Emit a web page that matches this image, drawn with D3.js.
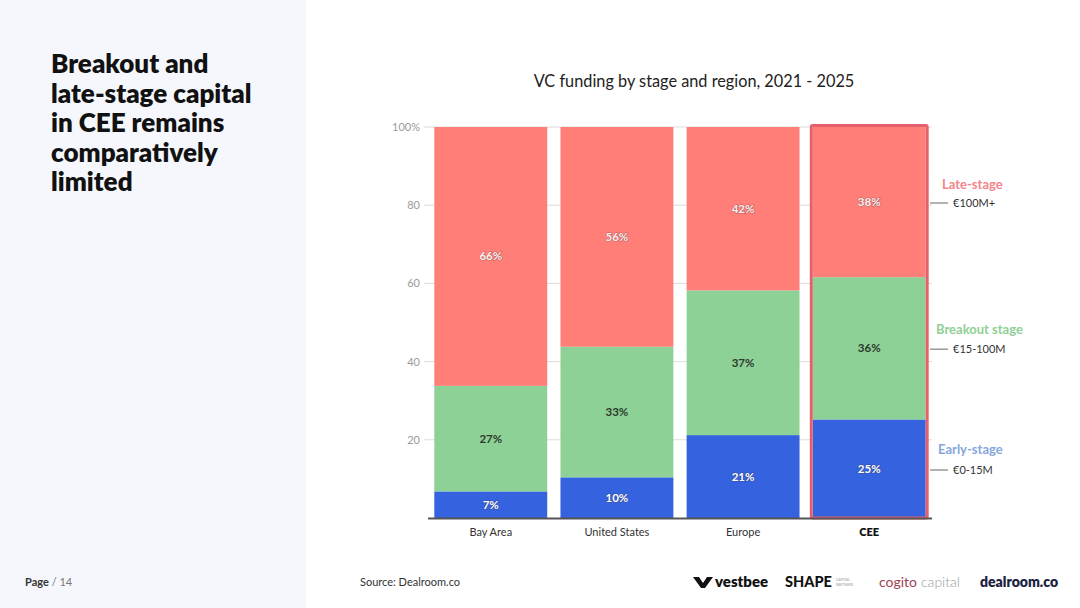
<!DOCTYPE html>
<html><head><meta charset="utf-8">
<script src="https://cdn.jsdelivr.net/npm/d3@7"></script>
<style>
html,body{margin:0;padding:0;background:#fff;}
svg{display:block;font-family:Lato,"Noto Sans",sans-serif;}
</style></head>
<body><svg id="c" width="1080" height="608"></svg>
<script>
const regions = ["Bay Area", "United States", "Europe", "CEE"];
const stages = ["Early-stage", "Breakout stage", "Late-stage"];
const stageRanges = ["€0-15M", "€15-100M", "€100M+"];
const earlyValues = [6.8, 10.4, 21.2, 25.2];
const breakoutValues = [27.0, 33.4, 37.0, 36.4];
const lateValues = [66.2, 56.2, 41.8, 38.4];
const yTicks = [20, 40, 60, 80, 100];
const highlight = "CEE";
const stageColors = ["#3562DE", "#8DD196", "#FF7E78"];
const legendColors = ["#86A6DC", "#8FD095", "#F2858B"];
const labelColors = ["#ffffff", "#2f3a2f", "#fdf1f1"];

const svg = d3.select("#c");
// left panel
svg.append("rect").attr("x",0).attr("y",0).attr("width",306).attr("height",608).attr("fill","#F5F7FC");
const head = ["Breakout and","late-stage capital","in CEE remains","comparatively","limited"];
svg.append("g").selectAll("text").data(head).join("text")
  .attr("x",51).attr("y",(d,i)=>73+i*29.5)
  .attr("font-size",26).attr("font-weight",800).attr("fill","#111").text(d=>d);

svg.append("text").attr("x",25).attr("y",586).attr("font-size",11).attr("fill","#333")
  .call(t=>{t.append("tspan").attr("font-weight",700).text("Page");t.append("tspan").attr("fill","#777").text(" / 14");});
svg.append("text").attr("x",360).attr("y",586).attr("font-size",11).attr("fill","#333").text("Source:  Dealroom.co");

// chart title
svg.append("text").attr("x",694).attr("y",87).attr("text-anchor","middle")
  .attr("font-size",16.3).attr("fill","#222").text("VC funding by stage and region, 2021 - 2025");

const x = d3.scaleBand().domain(regions).range([428,932]).paddingInner(0.105).paddingOuter(0.05);
const y = d3.scaleLinear().domain([0,100]).range([518,127]);

// grid
svg.append("g").selectAll("line").data(yTicks).join("line")
  .attr("x1",424).attr("x2",932).attr("y1",d=>y(d)).attr("y2",d=>y(d))
  .attr("stroke","#dcdcdc").attr("stroke-width",1);
svg.append("g").selectAll("text").data(yTicks).join("text")
  .attr("x",420).attr("y",d=>y(d)+4).attr("text-anchor","end")
  .attr("font-size",11).attr("fill","#9a9a9a").text(d=>d===100?"100%":d);

const rows = regions.map((r,i)=>({region:r, "Early-stage":earlyValues[i], "Breakout stage":breakoutValues[i], "Late-stage":lateValues[i]}));
const series = d3.stack().keys(stages)(rows);

const g = svg.append("g");
series.forEach((s,si)=>{
  g.append("g").selectAll("rect").data(s).join("rect")
    .attr("x",d=>x(d.data.region)).attr("width",x.bandwidth())
    .attr("y",d=>y(d[1])).attr("height",d=>y(d[0])-y(d[1]))
    .attr("fill",stageColors[si]);
  g.append("g").selectAll("text").data(s).join("text")
    .attr("x",d=>x(d.data.region)+x.bandwidth()/2)
    .attr("y",d=>(y(d[0])+y(d[1]))/2+4)
    .attr("text-anchor","middle").attr("font-size",11.5).attr("font-weight",700)
    .attr("fill",labelColors[si])
    .style("paint-order","stroke").attr("stroke",si===1?"none":"rgba(60,40,40,0.35)").attr("stroke-width",1.2)
    .text(d=>Math.round(d[1]-d[0])+"%");
});

// highlight border
svg.append("rect").attr("x",x(highlight)-1.5).attr("y",y(100)-1.5)
  .attr("width",x.bandwidth()+3).attr("height",y(0)-y(100)+1.5)
  .attr("fill","none").attr("stroke","#E4606C").attr("stroke-width",3).attr("rx",1.5);

// baseline
svg.append("line").attr("x1",428).attr("x2",932).attr("y1",518.5).attr("y2",518.5).attr("stroke","#555").attr("stroke-width",2);

// x labels
svg.append("g").selectAll("text").data(regions).join("text")
  .attr("x",d=>x(d)+x.bandwidth()/2).attr("y",536).attr("text-anchor","middle")
  .attr("font-size",11).attr("font-weight",d=>d===highlight?800:400).attr("fill",d=>d===highlight?"#111":"#333").text(d=>d);

// legend annotations (for CEE column)
const lg = svg.append("g");
series.forEach((s,si)=>{
  const d = s[s.length-1];
  const yl = si===0 ? y(d[0]) - 48 : (si===1 ? y(d[1]) + 72 : y(d[1]) + 76);
  const off = si===0 ? 16 : (si===1 ? 15 : 14);
  lg.append("line").attr("x1",930).attr("x2",948).attr("y1",yl).attr("y2",yl).attr("stroke","#666").attr("stroke-width",1);
  lg.append("text").attr("x",953).attr("y",yl+4).attr("font-size",11).attr("fill","#333").text(stageRanges[si]);
  lg.append("text").attr("x",si===1?936:(si===0?938:942)).attr("y",yl-off).attr("font-size",13).attr("font-weight",700)
    .attr("fill",legendColors[si]).text(stages[si]);
});

// partner logos
const logos = svg.append("g").attr("font-family","Lato, 'Noto Sans', sans-serif");
logos.append("path").attr("d","M693,577 L699,577 L703,583 L707,577 L713,577 L705,588 L701,588 Z").attr("fill","#111");
logos.append("text").attr("x",715).attr("y",587).attr("font-size",15).attr("font-weight",800).attr("fill","#111").text("vestbee");
logos.append("text").attr("x",785).attr("y",587).attr("font-size",14.5).attr("font-weight",900).attr("fill","#111").text("SHAPE");
logos.append("text").attr("x",836).attr("y",581).attr("font-size",3.5).attr("fill","#999").text("CAPITAL");
logos.append("text").attr("x",836).attr("y",586).attr("font-size",3.5).attr("fill","#999").text("PARTNERS");
logos.append("text").attr("x",879).attr("y",587).attr("font-size",14).attr("fill","#9E3F52").text("cogito");
logos.append("text").attr("x",921).attr("y",587).attr("font-size",14).attr("font-weight",300).attr("fill","#9a9a9a").text("capital");
logos.append("text").attr("x",980).attr("y",587).attr("font-size",14).attr("font-weight",800).attr("fill","#1b2342").text("dealroom.co");
</script></body></html>
